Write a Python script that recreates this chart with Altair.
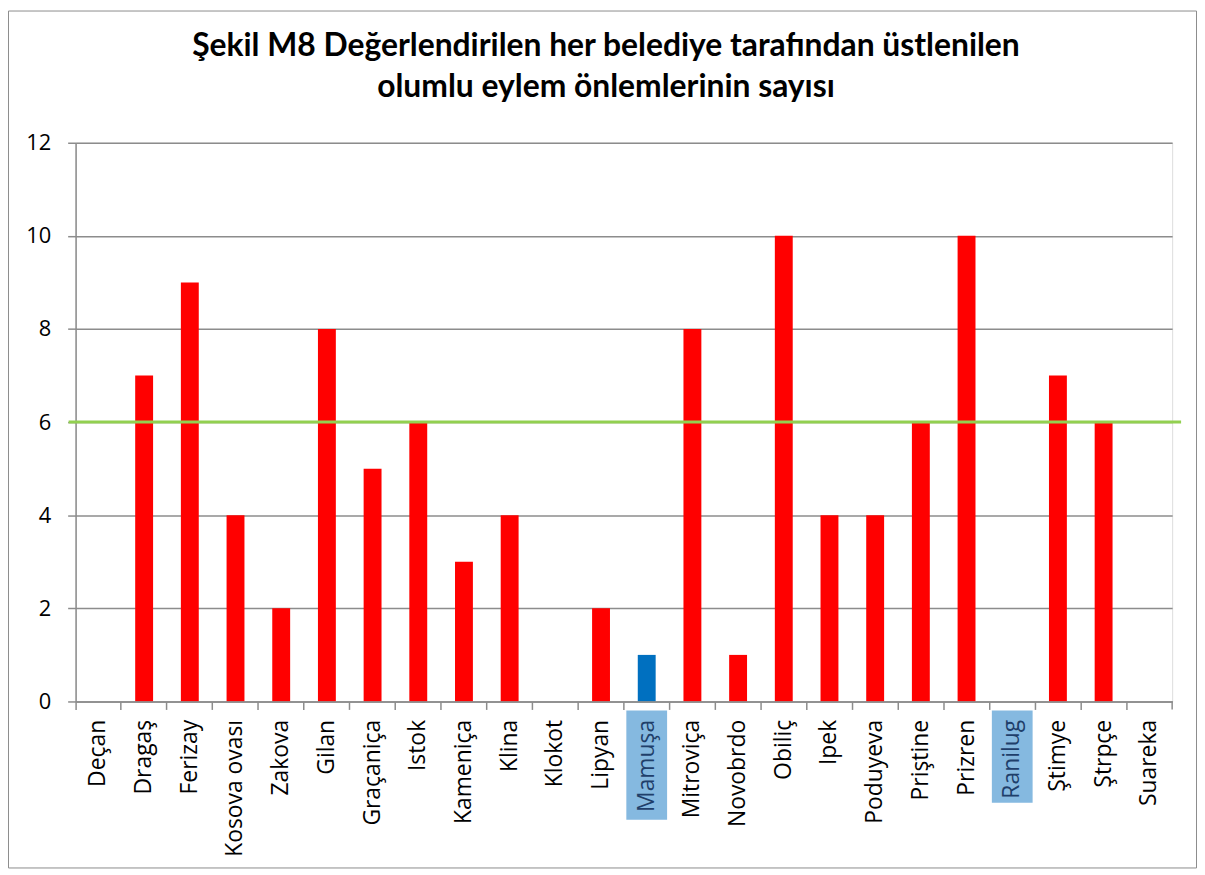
import altair as alt
import pandas as pd

categories = ["Deçan", "Dragaş", "Ferizay", "Kosova ovası", "Zakova", "Gilan",
              "Graçaniça", "Istok", "Kameniça", "Klina", "Klokot", "Lipyan",
              "Mamuşa", "Mitroviça", "Novobrdo", "Obiliç", "Ipek", "Poduyeva",
              "Priştine", "Prizren", "Ranilug", "Ştimye", "Ştrpçe", "Suareka"]
values = [0, 7, 9, 4, 2, 8, 5, 6, 3, 4, 0, 2, 1, 8, 1, 10, 4, 4, 6, 10, 0, 7, 6, 0]
highlighted = ["Mamuşa", "Ranilug"]
threshold = 6
title_lines = ["Şekil M8 Değerlendirilen her belediye tarafından üstlenilen",
               "olumlu eylem önlemlerinin sayısı"]

W, H = 1103, 562
box_len = {"Mamuşa": 119, "Ranilug": 102}

df = pd.DataFrame({
    "cat": categories,
    "val": values,
    "grp": ["blue" if c == "Mamuşa" else "red" for c in categories],
})

xscale = alt.Scale(domain=categories, paddingInner=0, paddingOuter=0)
hl_test = " || ".join([f"datum.value == '{h}'" for h in highlighted])

x_axis = alt.Axis(
    title=None, labelAngle=-90, labelAlign="right", labelBaseline="middle",
    labelPadding=10, labelFontSize=23, labelFont="Open Sans",
    labelColor=alt.condition(hl_test, alt.value("#1f3f6a"), alt.value("#000000")),
    tickSize=8, tickColor="#8c8c8c", tickWidth=1.5, domainColor="#8c8c8c",
    domainWidth=1.5, bandPosition=0, zindex=1, grid=False, labelOverlap=False,
)

base = alt.Chart(df)

boxes = []
for h in highlighted:
    boxes.append(
        base.transform_filter(alt.datum.cat == h).mark_bar(size=41, color="#85b9e0").encode(
            x=alt.X("cat:N", scale=xscale, sort=categories, axis=x_axis),
            y=alt.value(H + 9),
            y2=alt.value(H + box_len[h]),
        )
    )

bars = base.mark_bar(size=18).encode(
    x=alt.X("cat:N", scale=xscale, sort=categories, axis=x_axis),
    y=alt.Y("val:Q", scale=alt.Scale(domain=[0, 12]),
            axis=alt.Axis(title=None, values=[0, 2, 4, 6, 8, 10, 12], labelFontSize=22,
                          labelFont="Open Sans", labelColor="#000000", labelPadding=17,
                          tickSize=8, tickColor="#8c8c8c", tickWidth=1.5,
                          gridColor="#8c8c8c", gridWidth=1.5, domainColor="#8c8c8c",
                          domainWidth=1.5)),
    color=alt.Color("grp:N", scale=alt.Scale(domain=["red", "blue"],
                                              range=["#ff0000", "#0070c0"]), legend=None),
)

line = alt.Chart(pd.DataFrame({"t": [threshold]})).mark_rule(
    color="#92d050", strokeWidth=3).encode(
    y="t:Q", x=alt.value(-7), x2=alt.value(W + 9))

end_tick = alt.Chart(pd.DataFrame({"t": [0]})).mark_rule(
    color="#8c8c8c", strokeWidth=1.5).encode(
    x=alt.value(W), y=alt.value(H), y2=alt.value(H + 8))

border = alt.Chart(pd.DataFrame({"t": [0]})).mark_rect(
    fillOpacity=0, stroke="#8c8c8c", strokeWidth=1).encode(
    x=alt.value(-67.5), x2=alt.value(W + 24.5), y=alt.value(-132.5), y2=alt.value(H + 167.5))

chart = alt.layer(*boxes, bars, line, end_tick, border).properties(
    width=W, height=H,
    title=alt.TitleParams(text=title_lines, font="Lato", fontSize=32, fontWeight="bold",
                          color="#000000", anchor="middle", lineHeight=41, offset=40,
                          dx=-18, dy=134),
    autosize=alt.AutoSizeParams(type="none"),
    padding={"left": 68, "top": 133, "right": 25, "bottom": 168},
).configure_view(stroke=None).configure(background="white")

chart.save("out.html", embed_options={"renderer": "svg", "actions": False})
